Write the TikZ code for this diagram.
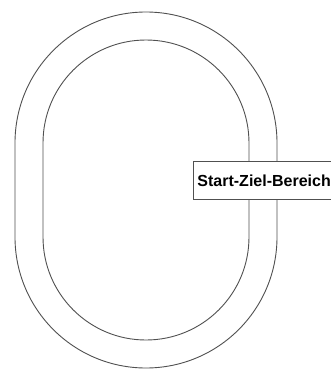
\documentclass[tikz,border=0pt]{standalone}
\usepackage{fontspec}
\setmainfont{Liberation Sans}
\usepackage{xcolor}
\usetikzlibrary{positioning}
\definecolor{trackgray}{HTML}{505050}
\tikzset{
  track/.style={draw=trackgray, line width=0.9pt},
  zonebox/.style={rectangle, draw=trackgray, fill=white, line width=0.9pt,
                  inner sep=0pt, minimum height=38pt, text width=170pt, align=left,
                  font=\fontsize{16}{18}\selectfont\bfseries},
}

\begin{document}
\begin{tikzpicture}[x=1pt, y=-1pt]
\useasboundingbox[fill=white] (0,0) rectangle (331,370);
% outer and inner edge of the track
\draw[track] (15,143) arc[start angle=180, end angle=360, radius=131]
  -- (277,237) arc[start angle=0, end angle=180, radius=131] -- cycle;
\draw[track] (43,143) arc[start angle=180, end angle=360, radius=103]
  -- (249,237) arc[start angle=0, end angle=180, radius=103] -- cycle;
% label over the straight
\node[zonebox, anchor=north west] (startziel) at (193,161)
  {\hspace{4pt}Start-Ziel-Bereich};
\end{tikzpicture}
\end{document}
